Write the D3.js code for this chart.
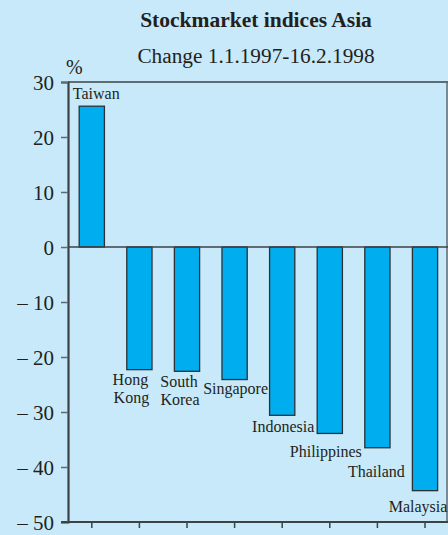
<!DOCTYPE html>
<html>
<head>
<meta charset="utf-8">
<script src="https://cdn.jsdelivr.net/npm/d3@7"></script>
<style>
  html, body { margin: 0; padding: 0; background: #c7e9f9; }
  svg { display: block; }
  text { font-family: "Liberation Serif", "Times New Roman", serif; fill: #231f20; }
</style>
</head>
<body>
<svg id="chart" width="448" height="535"></svg>
<script>
// Stock market index change, 1 Jan 1997 – 16 Feb 1998 (%)
const countries = ["Taiwan", "Hong Kong", "South Korea", "Singapore", "Indonesia", "Philippines", "Thailand", "Malaysia"];
const changes = [25.6, -22.3, -22.6, -24.1, -30.6, -33.9, -36.5, -44.3];
const yTicks = [30, 20, 10, 0, -10, -20, -30, -40, -50];

// Label placement per bar: [dx from bar centre, dy below bar end]
const labelOffsets = [[-19, -7], [-9, 15], [-8, 16], [1, 14], [1, 17], [-4, 24], [-1, 29], [-7, 21]];

const W = 448, H = 535;
const m = { left: 68, top: 82, right: 1, bottom: 13 };
const svg = d3.select("#chart");

svg.append("rect").attr("width", W).attr("height", H).attr("fill", "#c7e9f9");

const x = d3.scaleBand().domain(countries).range([m.left, m.left + 8 * 47.6]).paddingInner(0.47).paddingOuter(0.235);
const y = d3.scaleLinear().domain([-50, 30]).range([H - m.bottom, m.top]);

const axisColor = "#3d4247";

// Titles
svg.append("text").attr("x", 256).attr("y", 27).attr("text-anchor", "middle")
  .style("font-size", "21.5px").style("font-weight", "bold").text("Stockmarket indices Asia");
svg.append("text").attr("x", 256).attr("y", 63).attr("text-anchor", "middle")
  .style("font-size", "21.3px").text("Change 1.1.1997-16.2.1998");
svg.append("text").attr("x", 66).attr("y", 74).style("font-size", "20px").text("%");

// Frame: top and right edges
svg.append("line").attr("x1", m.left).attr("x2", W - m.right + 1).attr("y1", y(30)).attr("y2", y(30))
  .attr("stroke", axisColor).attr("stroke-width", 1.5);
svg.append("line").attr("x1", W - m.right).attr("x2", W - m.right).attr("y1", y(30)).attr("y2", y(-50))
  .attr("stroke", "#5d6a73").attr("stroke-width", 1.5);

// Y axis
const yAxis = d3.axisLeft(y).tickValues(yTicks).tickSize(7).tickPadding(7)
  .tickFormat(d => d < 0 ? "\u2013 " + Math.abs(d) : String(d));
const gy = svg.append("g").attr("transform", `translate(${m.left},0)`).call(yAxis);
gy.select(".domain").attr("stroke", axisColor).attr("stroke-width", 2.2);
gy.selectAll(".tick line").attr("stroke", "#5d6a73").attr("stroke-width", 1.5);
gy.selectAll(".tick text").style("font-size", "21px").style("font-family", "Liberation Serif, serif")
  .attr("fill", "#231f20").attr("dy", "0.34em");

// X axis at the bottom: ticks only at bar centres
const xAxis = d3.axisBottom(x).tickSize(6).tickFormat("");
const gx = svg.append("g").attr("transform", `translate(0,${y(-50)})`).call(xAxis);
gx.select(".domain").remove();
gx.selectAll(".tick line").attr("stroke", axisColor).attr("stroke-width", 1.5);
svg.append("line").attr("x1", m.left - 7).attr("x2", W - m.right + 1).attr("y1", y(-50)).attr("y2", y(-50))
  .attr("stroke", axisColor).attr("stroke-width", 2.2);

// Bars
svg.append("g").selectAll("rect").data(countries).join("rect")
  .attr("x", d => x(d))
  .attr("width", x.bandwidth())
  .attr("y", (d, i) => y(Math.max(0, changes[i])))
  .attr("height", (d, i) => Math.abs(y(changes[i]) - y(0)))
  .attr("fill", "#00aeef")
  .attr("stroke", "#2b3136")
  .attr("stroke-width", 1.3);

// Zero line
svg.append("line").attr("x1", m.left).attr("x2", W - m.right + 1).attr("y1", y(0)).attr("y2", y(0))
  .attr("stroke", axisColor).attr("stroke-width", 1.6);

// Country labels
const lab = svg.append("g").style("font-size", "16px");
countries.forEach((c, i) => {
  const cx = x(c) + x.bandwidth() / 2 + labelOffsets[i][0];
  const cy = y(changes[i]) + labelOffsets[i][1];
  const words = (c === "Hong Kong" || c === "South Korea") ? c.split(" ") : [c];
  const t = lab.append("text").attr("x", cx).attr("y", cy)
    .attr("text-anchor", c === "Taiwan" ? "start" : "middle");
  words.forEach((w, k) => {
    t.append("tspan").attr("x", c === "Taiwan" ? cx : cx + (k === 1 ? 1 : 0))
      .attr("dy", k === 0 ? 0 : 18).text(w);
  });
});
</script>
</body>
</html>
